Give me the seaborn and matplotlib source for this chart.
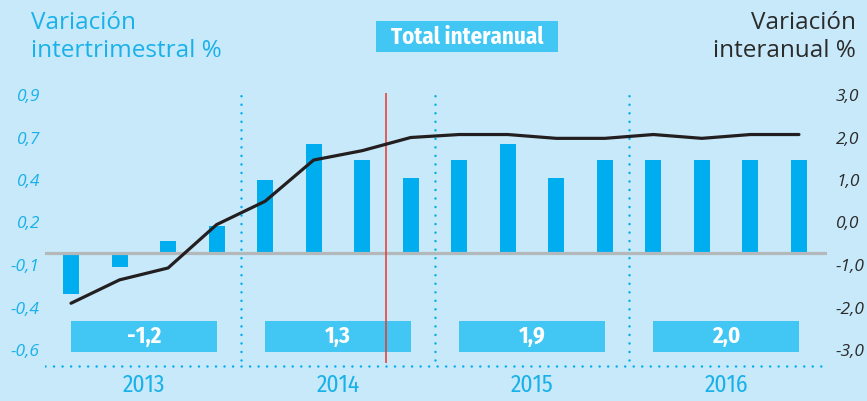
import numpy as np
import pandas as pd
import matplotlib
matplotlib.use("Agg")
import matplotlib.pyplot as plt
import seaborn as sns
from matplotlib.patches import Rectangle

# ---------------- data ----------------
years = ["2013", "2014", "2015", "2016"]
quarters = ["I", "II", "III", "IV"]
qoq = [-0.27, -0.11, 0.04, 0.13,
       0.40, 0.61, 0.52, 0.41,
       0.52, 0.61, 0.41, 0.52,
       0.52, 0.52, 0.52, 0.52]          # variación intertrimestral %
yoy = [-1.90, -1.35, -1.07, -0.05,
       0.50, 1.47, 1.69, 2.00,
       2.07, 2.07, 1.98, 1.98,
       2.07, 1.98, 2.07, 2.07]          # variación interanual %
annual_labels = ["-1,2", "1,3", "1,9", "2,0"]
left_ticks = [-0.6, -0.35, -0.1, 0.15, 0.4, 0.65, 0.9]
left_labels = ["-0,6", "-0,4", "-0,1", "0,2", "0,4", "0,7", "0,9"]
right_ticks = [-3, -2, -1, 0, 1, 2, 3]
right_labels = ["-3,0", "-2,0", "-1,0", "0,0", "1,0", "2,0", "3,0"]

# ---------------- style ----------------
BG = "#c7e9f9"
BAR = "#00aeef"
BOX = "#42c7f4"
CYAN_TXT = "#19b1ea"
DARK = "#2b2b2b"
GREY = "#b5b8ba"
RED = "#e8372c"
BAR_BASE = -0.03
NARROW = ["Fira Sans Condensed", "Lato", "DejaVu Sans"]
SANS = ["Open Sans", "DejaVu Sans"]

sns.set_style("white")
plt.rcParams["font.family"] = SANS

n = len(qoq)
pos = np.arange(n)
df = pd.DataFrame({
    "pos": pos,
    "year": np.repeat(years, 4),
    "quarter": quarters * 4,
    "qoq": qoq,
    "yoy": yoy,
})
df["rise"] = df["qoq"] - BAR_BASE

W, H = 867, 401
fig = plt.figure(figsize=(W / 100, H / 100), dpi=100)
fig.patch.set_facecolor(BG)

ax = fig.add_axes([45 / W, 1 - 370.4 / H, 782 / W, (370.4 - 86.5) / H])
ax.set_facecolor("none")

sns.barplot(data=df, x="pos", y="rise", order=list(pos), ax=ax, color=BAR,
            saturation=1, width=0.33, errorbar=None, linewidth=0,
            bottom=BAR_BASE, zorder=3)

ylo, yhi = -0.72, 0.95
ax.set_ylim(ylo, yhi)
ax.set_xlim(-0.536, 15.578)

# baseline and bottom dotted rule
ax.axhline(BAR_BASE, color=GREY, lw=2.3, zorder=4)
ax.axhline(-0.694, color=BAR, lw=1.8, linestyle=(0, (0.01, 3.4)),
           dash_capstyle="round", zorder=2)

# year separators and current-period marker
ax.vlines([3.5, 7.5, 11.5], -0.659, 0.912, colors=BAR, lw=1.8,
          linestyles=[(0, (0.01, 3.4))], capstyle="round", zorder=2)
ax.vlines([6.5], -0.676, 0.912, colors=RED, lw=1.1, zorder=5)

# annual summary boxes
for k, lab in enumerate(annual_labels):
    x0 = 4 * k
    ax.add_patch(Rectangle((x0, -0.612), 3, 0.183, facecolor=BOX,
                           edgecolor="none", zorder=3))
    ax.text(x0 + 1.5, -0.518, lab, ha="center", va="center", color="white",
            fontsize=16.5, fontweight="bold", family=NARROW, zorder=6)

# left axis
ax.set_yticks(left_ticks, left_labels)
ax.tick_params(axis="y", length=0, pad=3.6, labelcolor=CYAN_TXT, labelsize=12.5)
for t in ax.get_yticklabels():
    t.set_fontstyle("italic")
ax.set_xticks([1.5, 5.5, 9.5, 13.5], years)
ax.tick_params(axis="x", length=0, pad=2.5, labelcolor=CYAN_TXT, labelsize=17)
for t in ax.get_xticklabels():
    t.set_family(NARROW)
ax.set_xlabel("")
ax.set_ylabel("")
for s in ax.spines.values():
    s.set_visible(False)

# right axis: year-on-year line
ax2 = ax.twinx()
ax2.set_facecolor("none")
sns.lineplot(data=df, x="pos", y="yoy", ax=ax2, color="#231f20", lw=2.3,
             zorder=6)
ax2.set_ylim(4 * ylo - 0.6, 4 * yhi - 0.6)
ax2.set_xlim(-0.536, 15.578)
ax2.set_yticks(right_ticks, right_labels)
ax2.tick_params(axis="y", length=0, pad=6.5, labelcolor=DARK, labelsize=12.5)
for t in ax2.get_yticklabels():
    t.set_fontstyle("italic")
ax2.set_xlabel("")
ax2.set_ylabel("")
for s in ax2.spines.values():
    s.set_visible(False)

# titles
fig.text(31 / W, 1 - 11 / H, "Variación\nintertrimestral %", ha="left", va="top",
         fontsize=17.5, color=CYAN_TXT, linespacing=1.22)
fig.text(856 / W, 1 - 11 / H, "Variación\ninteranual %", ha="right", va="top",
         fontsize=17.5, color=DARK, linespacing=1.22, multialignment="right")

# "Total interanual" label box
fig.patches.append(Rectangle((376 / W, 1 - 52 / H), 182 / W, 31 / H,
                             transform=fig.transFigure, facecolor=BOX,
                             edgecolor="none"))
fig.text(467 / W, 1 - 37 / H, "Total interanual", ha="center", va="center",
         fontsize=16.5, fontweight="bold", color="white", family=NARROW)

fig.savefig("out.png", dpi=100, facecolor=BG)
